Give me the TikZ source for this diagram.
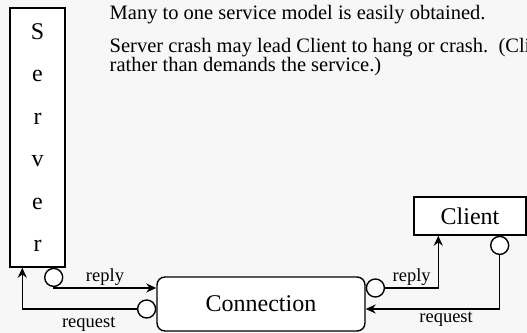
\documentclass[tikz,border=0pt]{standalone}
\usepackage{fontspec}
\setmainfont{Liberation Serif}
\usetikzlibrary{arrows.meta,calc,positioning}
\definecolor{pagegray}{HTML}{F7F7F7}

\begin{document}
\begin{tikzpicture}[x=0.5pt,y=-0.5pt,line width=0.7pt,
box/.style={draw,fill=white,inner sep=0pt,font=\fontsize{12}{14}\selectfont},
port/.style={draw,fill=white,circle,inner sep=0pt,minimum size=9pt},
lbl/.style={font=\fontsize{9.25}{11}\selectfont,inner sep=1pt},
note/.style={anchor=base west,inner sep=0pt,font=\fontsize{10.25}{12}\selectfont}]
\useasboundingbox[fill=pagegray] (0,0) rectangle (527,333);
\node[box,minimum width=27.5pt,minimum height=129.5pt,align=center,font=\fontsize{12}{21.2}\selectfont] (server) at (37.5,137.5) {S\\e\\r\\v\\e\\r};
\node[box,rounded corners=4pt,minimum width=104pt,minimum height=27pt] (conn) at (261,304) {Connection};
\node[box,minimum width=56pt,minimum height=19pt] (client) at (470,216) {Client};
\node[port,anchor=north] (srvport) at ($(server.south east)+(-12,0)$) {};
\node[port,anchor=east] (cin) at ($(conn.west)+(0,5)$) {};
\node[port,anchor=west] (cout) at ($(conn.east)+(0,-16)$) {};
\node[port,anchor=north] (cliport) at ($(client.south east)+(-27,0)$) {};
\coordinate (srvin) at ($(server.south west)+(13,0)$);
\coordinate (cliin) at ($(client.south west)+(25,0)$);
\node[note] (line1) at (109,19) {Many to one service model is easily obtained.};
\node[note] (line2) at (109,52) {Server crash may lead Client to hang or crash.~~(Cli};
\node[note] (line3) at (109,71) {rather than demands the service.)};
\path[->,>={Stealth[length=5pt,width=4.5pt]}]
(srvport.south) edge[to path={|- (\tikztotarget) \tikztonodes}] node[lbl,above,pos=0.75]{reply} (conn.west |- cout)
(cin.west) edge[to path={-| (\tikztotarget) \tikztonodes}] node[lbl,below,pos=0.21,yshift=-2.5pt]{request} (srvin)
(cout.east) edge[to path={-| (\tikztotarget) \tikztonodes}] node[lbl,above,pos=0.25]{reply} (cliin)
(cliport.south) edge[to path={|- (\tikztotarget) \tikztonodes}] node[lbl,below,pos=0.7]{request} (conn.east |- cin);
\end{tikzpicture}
\end{document}
